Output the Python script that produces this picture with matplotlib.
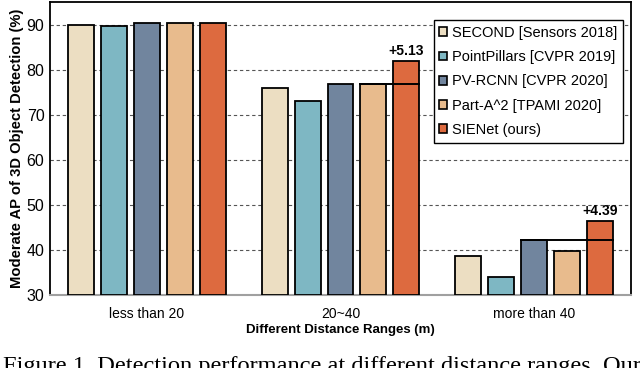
import matplotlib.pyplot as plt
import numpy as np

plt.rcParams['font.family'] = ['Liberation Sans', 'DejaVu Sans']

# data
ranges = ['less than 20', '20~40', 'more than 40']
methods = ['SECOND [Sensors 2018]', 'PointPillars [CVPR 2019]', 'PV-RCNN [CVPR 2020]',
           'Part-A^2 [TPAMI 2020]', 'SIENet (ours)']
second = [90.0, 76.0, 38.7]
pointpillars = [89.7, 73.1, 34.1]
pv_rcnn = [90.3, 76.7, 42.1]
part_a2 = [90.4, 76.8, 39.7]
sienet = [90.3, 81.93, 46.49]
gains = ['', '+5.13', '+4.39']
baseline_idx = [None, 3, 2]  # which method the gain is measured against

colors = ['#ecdec2', '#7eb7c3', '#71859e', '#e8bb8d', '#dd6a3f']
series = [second, pointpillars, pv_rcnn, part_a2, sienet]

fig = plt.figure(figsize=(6.4, 3.68), dpi=100)
ax = fig.add_axes([50 / 640, 73 / 368, 581 / 640, 293 / 368])

x = np.arange(len(ranges))
step = 0.17
width = 0.134
offsets = (np.arange(len(series)) - 2) * step

for vals, off, c, lab in zip(series, offsets, colors, methods):
    ax.bar(x + off, np.array(vals) - 30, width, bottom=30, color=c,
           edgecolor='black', linewidth=1.3, label=lab, zorder=3)

# improvement markers
for i, (g, b) in enumerate(zip(gains, baseline_idx)):
    if b is None:
        continue
    base = series[b][i]
    x0 = x[i] + offsets[b] - width / 2
    x1 = x[i] + offsets[4] + width / 2
    ax.plot([x0, x1], [base, base], color='black', lw=1.4, zorder=4)
    ax.text(x[i] + offsets[4], sienet[i] + 0.6, g, ha='center', va='bottom',
            fontsize=10, fontweight='bold', zorder=5)

ax.set_xlim(-0.5, 2.5)
ax.set_ylim(30, 95)
ax.set_yticks([30, 40, 50, 60, 70, 80, 90])
ax.set_xticks(x)
ax.set_xticklabels(ranges, fontsize=10)
ax.tick_params(axis='y', labelsize=11.5, length=0, pad=4)
ax.tick_params(axis='x', length=0, pad=9)

ax.grid(axis='y', color='#555555', linestyle=(0, (3, 2.5)), linewidth=0.8, zorder=0)
ax.set_axisbelow(True)

for s in ['left', 'top', 'right']:
    ax.spines[s].set_linewidth(1.3)
ax.spines['bottom'].set_color('#a0a0a0')
ax.spines['bottom'].set_linewidth(1.5)

ax.set_ylabel('Moderate AP of 3D Object Detection (%)', fontsize=10.6, fontweight='bold', labelpad=2)
ax.set_xlabel('Different Distance Ranges (m)', fontsize=9.5, fontweight='bold', labelpad=2)

leg = ax.legend(loc='upper right', bbox_to_anchor=(0.986, 0.938), fontsize=10.5,
                frameon=True, fancybox=False, edgecolor='black', framealpha=1,
                handlelength=0.55, handleheight=0.55, handletextpad=0.3,
                labelspacing=0.7, borderpad=0.4, borderaxespad=0)
leg.get_frame().set_linewidth(1.0)
for h in leg.legend_handles:
    h.set_linewidth(1.2)

# caption of the paper figure, cut off at the bottom edge as in the source
fig.text(0.004, 1 - 356 / 368, 'Figure 1. Detection performance at different distance ranges. Our',
         fontsize=17.6, family=['Liberation Serif', 'DejaVu Serif'], va='top', ha='left')

fig.savefig('out.png', dpi=100, facecolor='white')
